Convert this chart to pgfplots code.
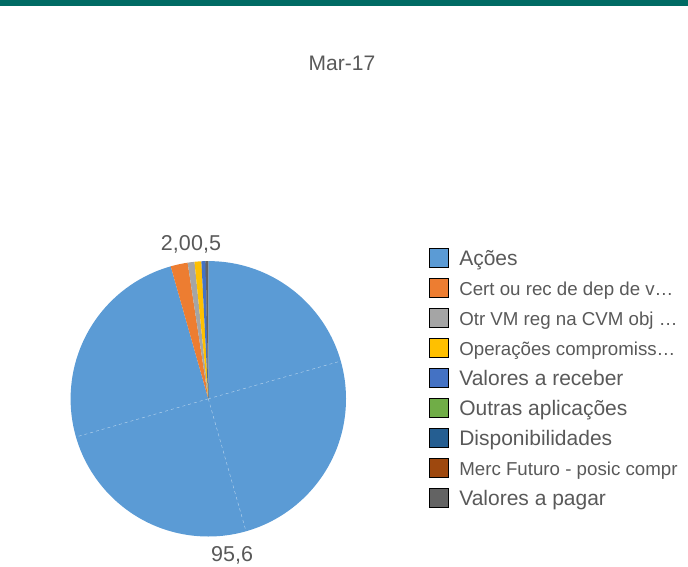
\documentclass[border=0pt]{standalone}
\usepackage{pgfplots}
\pgfplotsset{compat=1.18}
\usepackage{fontspec}
\setmainfont{Liberation Sans}
\definecolor{txt}{HTML}{595959}
\definecolor{topbar}{HTML}{006B64}
\definecolor{cAcoes}{HTML}{5B9BD5}
\definecolor{cCert}{HTML}{ED7D31}
\definecolor{cOtr}{HTML}{A5A5A5}
\definecolor{cOper}{HTML}{FFC000}
\definecolor{cVrec}{HTML}{4472C4}
\definecolor{cOutras}{HTML}{70AD47}
\definecolor{cDisp}{HTML}{255E91}
\definecolor{cMerc}{HTML}{9E480E}
\definecolor{cVpag}{HTML}{636363}
\begin{document}
\begin{tikzpicture}[x=1pt,y=1pt]
\path[use as bounding box] (0,0) rectangle (688,566);
\clip (0,0) rectangle (688,566);
\fill[topbar] (0,560) rectangle (688,566);
\node[anchor=base, font=\fontsize{21}{21}\selectfont, text=txt, inner sep=0pt] at (342,495.3) {Mar-17};
\begin{axis}[
  at={(208.3pt,167.2pt)}, anchor=center,
  x=137.7pt, y=137.7pt,
  xmin=-1, xmax=1, ymin=-1, ymax=1,
  hide axis, clip=false,
  legend image code/.code={%
    \draw[#1, draw=black, line width=1.2pt] (0.6pt,-9.4pt) rectangle (19.4pt,9.4pt);
    \path[draw=none, fill=none] (0pt,-15pt) rectangle (20pt,15pt);},
  legend cell align=left,
  legend style={at={(1.3014,1.06465)}, anchor=north west, draw=none, fill=none,
    inner sep=0pt, outer sep=0pt, row sep=0pt, column sep=10.3pt,
    font=\fontsize{21}{21}\selectfont, text=txt,
    nodes={inner sep=0pt, text height=14.5pt, text depth=0pt, anchor=west}},
]
\gdef\angA{90}
\foreach \v/\c in {95.6/cAcoes, 2.0/cCert, 0.8/cOtr, 0.8/cOper, 0.5/cVrec, 0/cOutras, 0/cDisp, 0/cMerc, 0.3/cVpag} {
  \pgfmathsetmacro\angB{\angA - 3.6*\v}
  \edef\doslice{\noexpand\fill[\c] (axis cs:0,0) -- (axis cs:{cos(\angA)},{sin(\angA)}) arc[start angle=\angA, end angle=\angB, radius=137.7pt] -- cycle;}
  \doslice
  \xdef\angA{\angB}
}
\draw[white, dashed, line width=0.4pt, opacity=0.6] (axis cs:0,0) -- (axis cs:{cos(15.9)},{sin(15.9)});
\draw[white, dashed, line width=0.4pt, opacity=0.6] (axis cs:0,0) -- (axis cs:{cos(-74.1)},{sin(-74.1)});
\draw[white, dashed, line width=0.4pt, opacity=0.6] (axis cs:0,0) -- (axis cs:{cos(196.1)},{sin(196.1)});
\addlegendimage{fill=cAcoes}\addlegendentry{Ações}
\addlegendimage{fill=cCert}\addlegendentry{\fontsize{18.7}{18.7}\selectfont Cert ou rec de dep de v…}
\addlegendimage{fill=cOtr}\addlegendentry{\fontsize{18.7}{18.7}\selectfont Otr VM reg na CVM obj …}
\addlegendimage{fill=cOper}\addlegendentry{\fontsize{18.7}{18.7}\selectfont Operações compromiss…}
\addlegendimage{fill=cVrec}\addlegendentry{Valores a receber}
\addlegendimage{fill=cOutras}\addlegendentry{Outras aplicações}
\addlegendimage{fill=cDisp}\addlegendentry{Disponibilidades}
\addlegendimage{fill=cMerc}\addlegendentry{\fontsize{18.7}{18.7}\selectfont Merc Futuro - posic compr}
\addlegendimage{fill=cVpag}\addlegendentry{Valores a pagar}
\end{axis}
\node[anchor=base east, font=\fontsize{21.5}{21.5}\selectfont, text=txt, inner sep=0pt] at (191,315.3) {2,0};
\node[anchor=base west, font=\fontsize{21.5}{21.5}\selectfont, text=txt, inner sep=0pt] at (191,315.3) {0,5};
\node[anchor=base west, font=\fontsize{21.5}{21.5}\selectfont, text=txt, inner sep=0pt] at (211,4.5) {95,6};
\end{tikzpicture}
\end{document}
